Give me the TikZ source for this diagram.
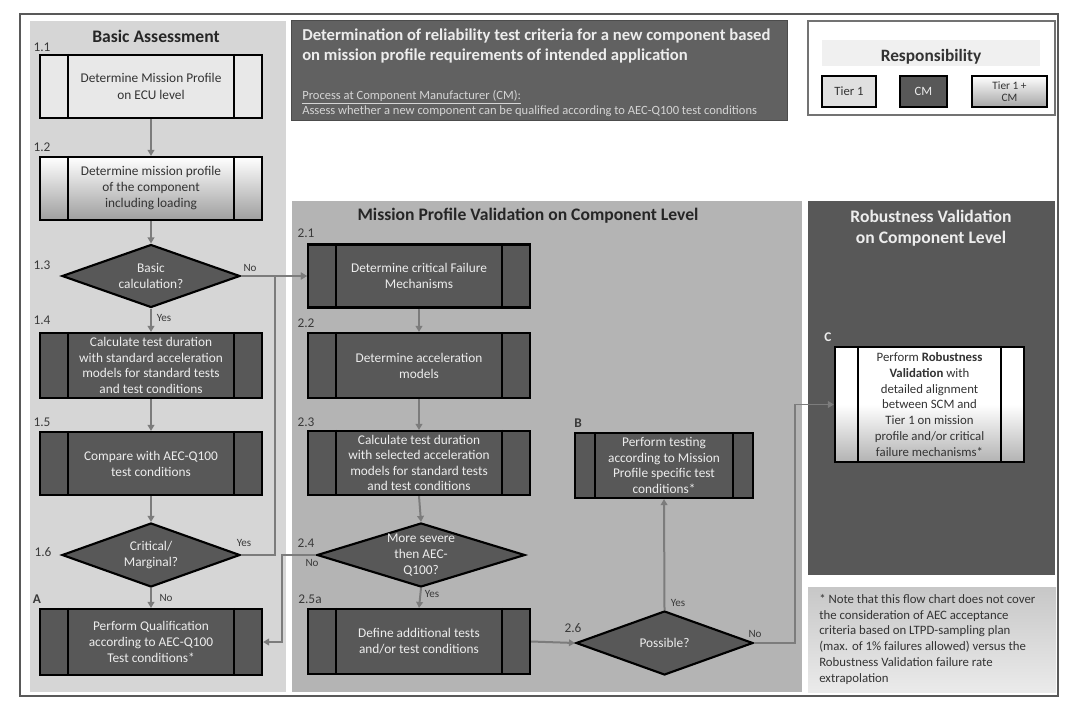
\documentclass[tikz,border=0pt]{standalone}
\usepackage{fontspec}
\setmainfont{Carlito}
\usetikzlibrary{shapes.geometric,arrows.meta,calc}
\definecolor{panA}{HTML}{D6D6D6}
\definecolor{panB}{HTML}{B4B4B4}
\definecolor{dk}{HTML}{585858}
\definecolor{txl}{HTML}{EDEDED}
\definecolor{txd}{HTML}{333333}
\definecolor{arr}{HTML}{7C7C7C}
\definecolor{numc}{HTML}{3A3A3A}
\definecolor{ttl}{HTML}{616161}
\newcommand{\sidebars}[2]{%
  \draw[line width=1.6pt] ([xshift=#2]#1.north west) -- ([xshift=#2]#1.south west);
  \draw[line width=1.6pt] ([xshift=-#2]#1.north east) -- ([xshift=-#2]#1.south east);}
\begin{document}
\begin{tikzpicture}[x=0.75pt,y=-0.75pt,
  pbox/.style={draw=black,line width=1.6pt,minimum width=222*0.75pt,minimum height=64*0.75pt,
    inner sep=0pt,align=center,font=\fontsize{10}{12}\selectfont},
  dkbox/.style={pbox,fill=dk,text=txl},
  four/.style={font=\fontsize{10}{11.7}\selectfont},
  dmd/.style={diamond,draw=black,line width=1.6pt,fill=dk,inner sep=0pt,
    minimum width=178*0.75pt,minimum height=63*0.75pt},
  dtxt/.style={text=txl,align=center,font=\fontsize{10}{12}\selectfont},
  flow/.style={draw=arr,line width=1.5pt,-{Triangle[length=4.5pt,width=5pt]}},
  secnum/.style={font=\fontsize{10}{11}\selectfont,text=numc,inner sep=0pt},
  yn/.style={font=\fontsize{8.3}{9}\selectfont,text=numc,inner sep=0pt},
  head/.style={font=\fontsize{13.2}{16}\bfseries\selectfont,inner sep=0pt,align=center},
]
\useasboundingbox (0,0) rectangle (1080,713);
\fill[white] (0,0) rectangle (1080,713);
% outer frame
\draw[draw=black!65,line width=1pt] (20,14) rectangle (1058,696);
% panels
\fill[panA] (30,21) rectangle (286,692);
\fill[panB] (292,201) rectangle (802,692);
\fill[dk] (808,201) rectangle (1055,575);
\shade[top color=black!22,bottom color=black!8] (808,587) rectangle (1056,692);
% title box
\node[draw=black!70,line width=0.6pt,fill=ttl,minimum width=496*0.75pt,minimum height=100*0.75pt,inner sep=0pt] (title) at (539,70) {};
\node[anchor=north west,inner sep=0pt,align=left,text=txl,font=\fontsize{12.5}{15}\bfseries\selectfont] (ttext) at (302,29)
  {Determination of reliability test criteria for a new component based\\on mission profile requirements of intended application};
\node[anchor=north west,inner sep=0pt,align=left,text=txl!90!black,font=\fontsize{9.4}{8.8}\selectfont] (tsub) at (302,90)
  {\underline{Process at Component Manufacturer (CM):}\\Assess whether a new component can be qualified according to AEC-Q100 test conditions};
% responsibility
\node[draw=black!55,line width=1pt,fill=white,minimum width=247*0.75pt,minimum height=94*0.75pt,inner sep=0pt] (resp) at (931.5,68) {};
\node[fill=black!6,minimum width=218*0.75pt,minimum height=26*0.75pt,inner sep=0pt] (resph) at (931,53) {};
\node[inner sep=0pt,font=\fontsize{13}{15}\bfseries\selectfont,text=txd] (respt) at (931,57) {Responsibility};
\node[draw=black,line width=1.6pt,fill=black!12,minimum width=54*0.75pt,minimum height=31*0.75pt,inner sep=0pt,font=\fontsize{9.5}{10}\selectfont,text=txd] (rt1) at (849,91.5) {Tier 1};
\node[draw=black,line width=1.6pt,fill=dk,minimum width=47*0.75pt,minimum height=31*0.75pt,inner sep=0pt,font=\fontsize{9.5}{10}\selectfont,text=txl] (rcm) at (923.5,91.5) {CM};
\node[draw=black,line width=1.6pt,top color=white,bottom color=black!35,minimum width=75*0.75pt,minimum height=31*0.75pt,inner sep=0pt,align=center,font=\fontsize{8.5}{9.5}\selectfont,text=txd] (rtc) at (1009.5,91.5) {Tier 1 +\\CM};
% headings
\node[head,text=black!85] (hA) at (156,36) {Basic Assessment};
\node[head,text=black!85] (hB) at (528,216) {Mission Profile Validation on Component Level};
\node[head,text=txl] (hC) at (931,228) {Robustness Validation\\on Component Level};
% column 1
\node[pbox,fill=black!9,text=txd,minimum height=63*0.75pt,font=\fontsize{10}{12.7}\selectfont] (b11) at (151,86.5) {Determine Mission Profile\\on ECU level};
\node[pbox,top color=white,bottom color=black!38,text=txd,minimum height=63*0.75pt] (b12) at (151,188.5) {Determine mission profile\\of the component\\including loading};
\node[dmd,label={[dtxt]center:{Basic\\calculation?}}] (d13) at (151,276) {};
\node[dkbox,four,minimum height=65*0.75pt] (b14) at (151,365.5) {Calculate test duration\\with standard acceleration\\models for standard tests\\and test conditions};
\node[dkbox,minimum height=63*0.75pt] (b15) at (151,463.5) {Compare with AEC-Q100\\test conditions};
\node[dmd,minimum height=64*0.75pt,label={[dtxt]center:{Critical/\\Marginal?}}] (d16) at (151,555) {};
\node[dkbox,minimum height=66*0.75pt] (bA) at (151,642) {Perform Qualification\\according to AEC-Q100\\Test conditions*};
\sidebars{b11}{21.5pt}
\sidebars{b12}{21.5pt}
\sidebars{b14}{21.5pt}
\sidebars{b15}{21.5pt}
\sidebars{bA}{21.5pt}
% column 2
\node[dkbox,minimum height=63*0.75pt] (b21) at (419,276) {Determine critical Failure\\Mechanisms};
\node[dkbox,minimum height=65*0.75pt] (b22) at (419,365.5) {Determine acceleration\\models};
\node[dkbox,four,minimum height=64*0.75pt] (b23) at (419,463) {Calculate test duration\\with selected acceleration\\models for standard tests\\and test conditions};
\node[dmd,minimum width=208*0.75pt,minimum height=64*0.75pt,label={[dtxt]center:{More severe\\then AEC-\\Q100?}}] (d24) at (421,555) {};
\node[dkbox,minimum height=65*0.75pt] (b25) at (419,641.5) {Define additional tests\\and/or test conditions};
\node[dkbox,four,minimum width=178*0.75pt,minimum height=65*0.75pt] (bB) at (664,465.5) {Perform testing\\according to Mission\\Profile specific test\\conditions*};
\node[dmd,minimum width=177*0.75pt,minimum height=64*0.75pt,label={[dtxt]center:{Possible?}}] (d26) at (664.5,643) {};
\node[pbox,top color=white,bottom color=black!30,middle color=white,text=txd,minimum width=189*0.75pt,minimum height=115*0.75pt,font=\fontsize{9.6}{11.9}\selectfont] (bC) at (929.5,404.5)
  {Perform \textbf{Robustness}\\\textbf{Validation} with\\detailed alignment\\between SCM and\\Tier 1 on mission\\profile and/or critical\\failure mechanisms*};
\sidebars{b21}{21.5pt}
\sidebars{b22}{21.5pt}
\sidebars{b23}{21.5pt}
\sidebars{b25}{21.5pt}
\sidebars{bB}{16pt}
\sidebars{bC}{18pt}
% section numbers
\node[secnum] (n11) at (42,47) {1.1};
\node[secnum] (n12) at (42,147) {1.2};
\node[secnum] (n13) at (42,265) {1.3};
\node[secnum] (n14) at (42,320) {1.4};
\node[secnum] (n15) at (42,422) {1.5};
\node[secnum] (n16) at (43,552) {1.6};
\node[secnum,font=\fontsize{10}{11}\bfseries\selectfont] (nA) at (37,599) {A};
\node[secnum] (n21) at (306,233) {2.1};
\node[secnum] (n22) at (306,323) {2.2};
\node[secnum] (n23) at (306,422) {2.3};
\node[secnum] (n24) at (306,543) {2.4};
\node[secnum] (n25) at (310,599) {2.5a};
\node[secnum,font=\fontsize{10}{11}\bfseries\selectfont] (nB) at (578,423) {B};
\node[secnum] (n26) at (573,628) {2.6};
\node[secnum,text=txl,font=\fontsize{10}{11}\bfseries\selectfont] (nC) at (828,337) {C};
% coordinates for connector bends
\coordinate (j1) at (275,555);
\coordinate (j2) at (282,555);
\coordinate (j3) at (795,643);
% connectors
\draw[flow] (b11.south) -- (b12.north);
\draw[flow] (b12.south) -- (d13.north);
\draw[flow] (d13.south) -- (b14.north);
\draw[flow] (b14.south) -- (b15.north);
\draw[flow] (b15.south) -- (d16.north);
\draw[flow] (d16.south) -- (bA.north);
\draw[flow] (d13.east) -- (b21.west);
\draw[flow] (d16.east) -- (j1) |- (b21.west);
\draw[flow] (d24.west) -- (j2) |- (bA.east);
\draw[flow] (b21.south) -- (b22.north);
\draw[flow] (b22.south) -- (b23.north);
\draw[flow] (b23.south) -- (d24.north);
\draw[flow] (d24.south) -- (b25.north);
\draw[flow] (b25.east) -- (d26.west);
\draw[flow] (d26.north) -- (bB.south);
\draw[flow,line width=1.2pt] (d26.east) -- (j3) |- (bC.west);
% yes/no labels
\node[yn] (y13n) at (250,268) {No};
\node[yn] (y13y) at (164,318) {Yes};
\node[yn] (y16y) at (244,543) {Yes};
\node[yn] (y16n) at (166,598) {No};
\node[yn] (y24y) at (432,594) {Yes};
\node[yn] (y24n) at (312,563) {No};
\node[yn] (y26y) at (678,603) {Yes};
\node[yn] (y26n) at (755,634) {No};
% note
\node[anchor=north west,inner sep=0pt,align=left,text=txd,font=\fontsize{9.6}{11.8}\selectfont] (note) at (819,594)
  {* Note that this flow chart does not cover\\the consideration of AEC acceptance\\criteria based on LTPD-sampling plan\\(max. of 1\% failures allowed) versus the\\Robustness Validation failure rate\\extrapolation};
\end{tikzpicture}
\end{document}
